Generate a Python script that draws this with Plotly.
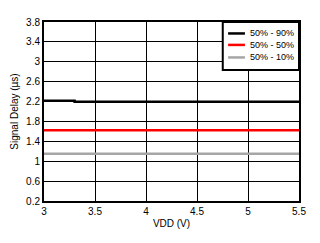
import plotly.graph_objects as go

vdd_9010 = [3.0, 3.3, 3.3, 5.5]
delay_9010 = [2.215, 2.215, 2.195, 2.195]
vdd = [3.0, 3.5, 4.0, 4.5, 5.0, 5.5]
delay_5050 = [1.625, 1.625, 1.625, 1.625, 1.625, 1.625]
delay_5010 = [1.152, 1.152, 1.152, 1.152, 1.152, 1.152]
names = ["50% - 90%", "50% - 50%", "50% - 10%"]
colors = ["#000000", "#FF0000", "#A6A6A6"]

fig = go.Figure()
fig.add_trace(go.Scatter(x=vdd_9010, y=delay_9010, mode="lines", name=names[0],
                         line=dict(color=colors[0], width=2.5), showlegend=False))
fig.add_trace(go.Scatter(x=vdd, y=delay_5050, mode="lines", name=names[1],
                         line=dict(color=colors[1], width=2.5), showlegend=False))
fig.add_trace(go.Scatter(x=vdd, y=delay_5010, mode="lines", name=names[2],
                         line=dict(color=colors[2], width=2.5), showlegend=False))

axis_common = dict(showgrid=True, gridcolor="black", gridwidth=1, zeroline=False,
                   showline=True, linecolor="black", linewidth=2, mirror=True,
                   ticks="", tickfont=dict(size=10, color="black"))
fig.update_xaxes(range=[3, 5.5], tickvals=[3, 3.5, 4, 4.5, 5, 5.5],
                 ticktext=["3", "3.5", "4", "4.5", "5", "5.5"],
                 title=dict(text="VDD (V)", font=dict(size=10, color="black"), standoff=4),
                 **axis_common)
fig.update_yaxes(range=[0.2, 3.8], tickvals=[0.2, 0.6, 1, 1.4, 1.8, 2.2, 2.6, 3, 3.4, 3.8],
                 ticktext=["0.2", "0.6", "1", "1.4", "1.8", "2.2", "2.6", "3", "3.4", "3.8"],
                 title=dict(text="Signal Delay (µs)", font=dict(size=10, color="black"), standoff=6),
                 **axis_common)

# compact legend box (inside top-right of plot area)
shapes = [dict(type="rect", xref="paper", yref="paper", x0=0.701, x1=1.0, y0=0.732, y1=1.0,
               fillcolor="white", line=dict(color="black", width=2), layer="above")]
annotations = []
row_y = [0.936, 0.872, 0.802]
for name, col, yy in zip(names, colors, row_y):
    shapes.append(dict(type="line", xref="paper", yref="paper", x0=0.722, x1=0.788,
                       y0=yy, y1=yy, line=dict(color=col, width=2.5), layer="above"))
    annotations.append(dict(xref="paper", yref="paper", x=0.800, y=yy, text=name,
                            showarrow=False, xanchor="left", yanchor="middle",
                            font=dict(size=9, color="black")))

fig.update_layout(
    width=320, height=243,
    margin=dict(l=44, r=21, t=22, b=42),
    paper_bgcolor="white", plot_bgcolor="white",
    font=dict(family="Liberation Sans, Arial, sans-serif", size=10, color="black"),
    shapes=shapes, annotations=annotations,
    showlegend=False,
)
fig.write_html("out.html")
